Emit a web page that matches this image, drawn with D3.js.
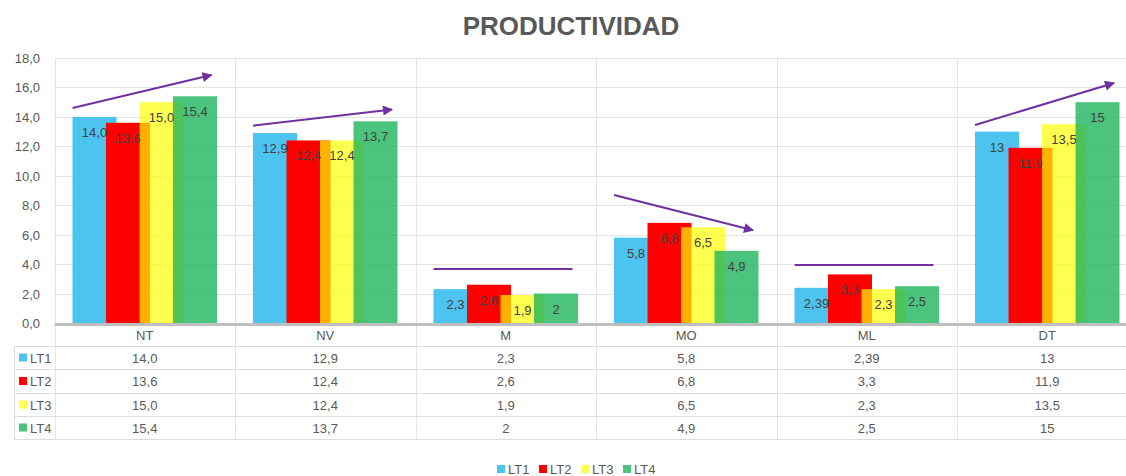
<!DOCTYPE html>
<html lang="es">
<head>
    <meta charset="UTF-8">
    <title>Productividad</title>
    <script src="https://cdn.jsdelivr.net/npm/d3@7/dist/d3.min.js"></script>
    <style>
        body { margin: 0; background: #fff; }
        text { font-family: 'Liberation Sans', Arial, sans-serif; }
    </style>
</head>
<body>
    <script>
        // data
        var categories = ['NT', 'NV', 'M', 'MO', 'ML', 'DT'];
        var seriesNames = ['LT1', 'LT2', 'LT3', 'LT4'];
        var lt1 = [14.0, 12.9, 2.3, 5.8, 2.39, 13];
        var lt2 = [13.6, 12.4, 2.6, 6.8, 3.3, 11.9];
        var lt3 = [15.0, 12.4, 1.9, 6.5, 2.3, 13.5];
        var lt4 = [15.4, 13.7, 2, 4.9, 2.5, 15];
        // labels as shown in the sheet (mixed number formats)
        var lt1Text = ['14,0', '12,9', '2,3', '5,8', '2,39', '13'];
        var lt2Text = ['13,6', '12,4', '2,6', '6,8', '3,3', '11,9'];
        var lt3Text = ['15,0', '12,4', '1,9', '6,5', '2,3', '13,5'];
        var lt4Text = ['15,4', '13,7', '2', '4,9', '2,5', '15'];
        var yTicks = [0, 2, 4, 6, 8, 10, 12, 14, 16, 18];

        // hand-drawn trend arrows (value at start / end)
        var trendFrom = [14.6, 13.4, 3.67, 8.7, 3.94, 13.45];
        var trendTo = [16.85, 14.5, 3.67, 6.3, 3.94, 16.3];
        var trendHead = [true, true, false, true, false, true];

        var values = [lt1, lt2, lt3, lt4];
        var texts = [lt1Text, lt2Text, lt3Text, lt4Text];
        var colors = ['#4dc4f0', '#ff0000', 'rgba(255,255,0,0.69)', 'rgba(31,181,93,0.8)'];
        var keyColors = ['#4dc4f0', '#ff0000', '#ffff4f', '#4cc47e'];

        var w = 1126;
        var h = 476;
        var plotTop = 58;
        var plotBottom = 323;
        var gridColor = '#e4e4e4';
        var textColor = '#595959';

        var svg = d3.select('body')
                    .append('svg')
                    .attr('width', w)
                    .attr('height', h);

        var x = d3.scaleBand()
            .domain(categories)
            .range([54.5, 1137.5])
            .padding(0);

        var y = d3.scaleLinear()
            .domain([0, 18])
            .range([plotBottom, plotTop]);

        var bw = x.bandwidth();

        //title
        svg.append('text')
            .attr('x', 571)
            .attr('y', 35)
            .attr('text-anchor', 'middle')
            .attr('font-size', '26px')
            .attr('font-weight', 'bold')
            .attr('fill', textColor)
            .text('PRODUCTIVIDAD');

        //horizontal gridlines
        svg.selectAll('.grid')
            .data(yTicks.slice(1))
            .enter()
            .append('line')
            .attr('x1', 54.5)
            .attr('x2', w)
            .attr('y1', function(d) { return Math.round(y(d)) + 0.5; })
            .attr('y2', function(d) { return Math.round(y(d)) + 0.5; })
            .attr('stroke', gridColor);

        //vertical lines (plot + table)
        var edges = categories.map(function(c) { return x(c); });
        svg.selectAll('.vline')
            .data(edges)
            .enter()
            .append('line')
            .attr('x1', function(d) { return Math.round(d) + 0.5; })
            .attr('x2', function(d) { return Math.round(d) + 0.5; })
            .attr('y1', plotTop)
            .attr('y2', 439)
            .attr('stroke', gridColor);

        //y axis labels
        svg.selectAll('.ylab')
            .data(yTicks)
            .enter()
            .append('text')
            .attr('x', 40)
            .attr('y', function(d) { return y(d) + 5; })
            .attr('text-anchor', 'end')
            .attr('font-size', '13px')
            .attr('fill', textColor)
            .text(function(d) { return d3.format('.1f')(d).replace('.', ','); });

        //bars, series by series so later ones overlap
        var offset = 18, step = 33.5, barW = 44;
        values.forEach(function(series, s) {
            svg.selectAll('.bar' + s)
                .data(series)
                .enter()
                .append('rect')
                .attr('x', function(d, i) { return x(categories[i]) + offset + s * step; })
                .attr('y', function(d) { return y(d); })
                .attr('width', barW)
                .attr('height', function(d) { return plotBottom - y(d); })
                .attr('fill', colors[s]);
        });

        //value labels inside bar ends
        values.forEach(function(series, s) {
            svg.selectAll('.lab' + s)
                .data(series)
                .enter()
                .append('text')
                .attr('x', function(d, i) { return x(categories[i]) + offset + s * step + barW / 2; })
                .attr('y', function(d) { return Math.min(y(d) + 20, plotBottom - 6); })
                .attr('text-anchor', 'middle')
                .attr('font-size', '13px')
                .attr('fill', '#404040')
                .text(function(d, i) { return texts[s][i]; });
        });

        //trend arrows
        var defs = svg.append('defs');
        defs.append('marker')
            .attr('id', 'head')
            .attr('viewBox', '0 0 10 10')
            .attr('refX', 9)
            .attr('refY', 5)
            .attr('markerWidth', 6)
            .attr('markerHeight', 5)
            .attr('orient', 'auto')
            .append('path')
            .attr('d', 'M0,0 L10,5 L0,10 z')
            .attr('fill', '#7030a0');

        svg.selectAll('.trend')
            .data(categories)
            .enter()
            .append('line')
            .attr('x1', function(d) { return x(d) + bw * 0.1; })
            .attr('x2', function(d) { return x(d) + bw * 0.87; })
            .attr('y1', function(d, i) { return y(trendFrom[i]); })
            .attr('y2', function(d, i) { return y(trendTo[i]); })
            .attr('stroke', '#7030a0')
            .attr('stroke-width', 2)
            .attr('marker-end', function(d, i) { return trendHead[i] ? 'url(#head)' : null; });

        //category axis line
        svg.append('line')
            .attr('x1', 54.5)
            .attr('x2', w)
            .attr('y1', plotBottom + 1.5)
            .attr('y2', plotBottom + 1.5)
            .attr('stroke', '#bfbfbf')
            .attr('stroke-width', 3);

        //data table
        var rowLines = [346, 369, 393, 416, 439];
        svg.selectAll('.row')
            .data(rowLines)
            .enter()
            .append('line')
            .attr('x1', 14)
            .attr('x2', w)
            .attr('y1', function(d) { return d + 0.5; })
            .attr('y2', function(d) { return d + 0.5; })
            .attr('stroke', '#dcdcdc');

        svg.append('line')
            .attr('x1', 14.5)
            .attr('x2', 14.5)
            .attr('y1', 346)
            .attr('y2', 439)
            .attr('stroke', '#dcdcdc');

        svg.selectAll('.cat')
            .data(categories)
            .enter()
            .append('text')
            .attr('x', function(d) { return x(d) + bw / 2; })
            .attr('y', 340)
            .attr('text-anchor', 'middle')
            .attr('font-size', '13px')
            .attr('fill', textColor)
            .text(function(d) { return d; });

        seriesNames.forEach(function(name, s) {
            var rowMid = (rowLines[s] + rowLines[s + 1]) / 2;
            svg.append('rect')
                .attr('x', 19)
                .attr('y', rowMid - 4)
                .attr('width', 8)
                .attr('height', 8)
                .attr('fill', keyColors[s]);
            svg.append('text')
                .attr('x', 30)
                .attr('y', rowMid + 5)
                .attr('font-size', '13px')
                .attr('fill', textColor)
                .text(name);
            svg.selectAll('.cell' + s)
                .data(texts[s])
                .enter()
                .append('text')
                .attr('x', function(d, i) { return x(categories[i]) + bw / 2; })
                .attr('y', rowMid + 5)
                .attr('text-anchor', 'middle')
                .attr('font-size', '13px')
                .attr('fill', textColor)
                .text(function(d) { return d; });
        });

        //legend
        var legend = svg.append('g')
            .attr('transform', 'translate(497,469)');
        seriesNames.forEach(function(name, s) {
            legend.append('rect')
                .attr('x', s * 42)
                .attr('y', -4)
                .attr('width', 8)
                .attr('height', 8)
                .attr('fill', keyColors[s]);
            legend.append('text')
                .attr('x', s * 42 + 11)
                .attr('y', 5)
                .attr('font-size', '13px')
                .attr('fill', textColor)
                .text(name);
        });
    </script>
</body>
</html>
